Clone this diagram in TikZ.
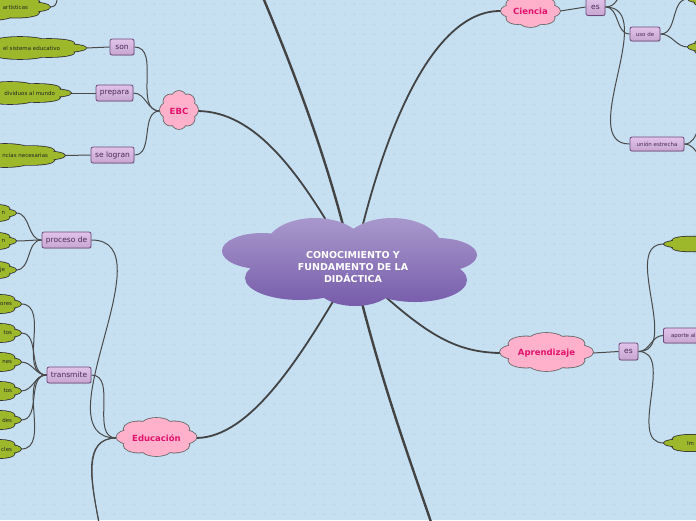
\documentclass[tikz,border=0pt]{standalone}
\usepackage{fontspec}
\setmainfont{DejaVu Sans}
\usetikzlibrary{shadows}

\definecolor{fondo}{HTML}{C6E0F2}
\definecolor{punto}{HTML}{B8D5EC}
\definecolor{rosa}{HTML}{FFB0CB}
\definecolor{rosatexto}{HTML}{E3126B}
\definecolor{lila}{HTML}{D9B4E3}
\definecolor{lilaborde}{HTML}{6E4A7C}
\definecolor{lilatexto}{HTML}{4B2A55}
\definecolor{verde}{HTML}{9DB82A}
\definecolor{gris}{HTML}{4A4A4A}
\definecolor{centroarriba}{HTML}{A898CC}
\definecolor{centroabajo}{HTML}{775CAB}

\pgfdeclarelayer{fondo}
\pgfdeclarelayer{ramas}
\pgfsetlayers{fondo,ramas,main}

% nube: relleno, borde, centro, ancho, alto
\newcommand\nube[5]{%
  \begin{scope}[shift={#3}, xscale=#4/2, yscale=#5/2]
    \draw[draw=#2, line width=1.6pt] (0,0) circle[radius=0.62]
      \foreach \a in {0,45,...,315} {(\a:0.62) circle[radius=0.38]};
    \fill[#1] (0,0) circle[radius=0.62]
      \foreach \a in {0,45,...,315} {(\a:0.62) circle[radius=0.38]};
  \end{scope}}

\tikzset{
  idea/.style={inner sep=0pt, text=white, align=center,
    font=\fontsize{9.5}{12}\selectfont\bfseries},
  tema/.style={inner sep=0pt, text=rosatexto, font=\fontsize{8.5}{10}\selectfont\bfseries},
  enlace/.style={rectangle, rounded corners=2pt, draw=lilaborde, line width=0.8pt,
    top color=lila!80!white, bottom color=lila!92!black, text=lilatexto,
    inner sep=0pt, minimum height=16pt, font=\fontsize{7.5}{8}\selectfont,
    drop shadow={shadow xshift=0.6pt, shadow yshift=-0.8pt, opacity=0.3}},
  enlacechico/.style={enlace, minimum height=14pt, font=\fontsize{5.5}{6}\selectfont},
  hoja/.style={inner sep=0pt},
  hojatexto/.style={text=black!85, font=\fontsize{5.5}{6}\selectfont, inner sep=0pt},
  rama/.style={draw=gris, line width=1pt},
  ramagruesa/.style={draw=gris!90!black, line width=2.4pt, line cap=round},
}

\begin{document}
\begin{tikzpicture}[x=1pt, y=-1pt]
\useasboundingbox (0,0) rectangle (696,520);

\begin{pgfonlayer}{fondo}
  \fill[fondo] (0,0) rectangle (696,520);
  \draw[punto, line width=0.5pt] \foreach \i in {4,14,...,694} {
    \foreach \j in {4,14,...,514} {(\i-1.2,\j) -- (\i+1.2,\j) (\i,\j-1.2) -- (\i,\j+1.2)}};
\end{pgfonlayer}

%idea central
\shade[top color=centroarriba, bottom color=centroabajo]
  (350,262) ellipse[x radius=90, y radius=30]
  (315,248) ellipse[x radius=50, y radius=30]
  (392,248) ellipse[x radius=50, y radius=30]
  (262,251) ellipse[x radius=40, y radius=18]
  (437,255) ellipse[x radius=40, y radius=17]
  (300,278) ellipse[x radius=55, y radius=22]
  (415,280) ellipse[x radius=52, y radius=22]
  (355,284) ellipse[x radius=40, y radius=22];
\node[idea, minimum width=255pt, minimum height=88pt] (centro) at (353,267)
  {CONOCIMIENTO Y\\FUNDAMENTO DE LA\\DIDÁCTICA};

%temas
\nube{rosa}{black!60}{(179,110)}{38}{38}
\node[tema, minimum width=38pt, minimum height=38pt] (ebc) at (179,111) {EBC};
\nube{rosa}{black!60}{(530.5,11)}{59}{32}
\node[tema, minimum width=59pt, minimum height=32pt] (ciencia) at (530.5,11) {Ciencia};
\nube{rosa}{black!60}{(546.5,352)}{93}{38}
\node[tema, minimum width=93pt, minimum height=38pt] (aprendizaje) at (546.5,353) {Aprendizaje};
\nube{rosa}{black!60}{(156.5,437)}{80}{38}
\node[tema, minimum width=80pt, minimum height=38pt] (educacion) at (156.5,438) {Educación};

%EBC
\node[enlace, minimum width=24pt] (son) at (122,47) {son};
\node[enlace, minimum width=37pt] (prepara) at (114.5,93) {prepara};
\node[enlace, minimum width=43pt] (selogran) at (112.5,155) {se logran};
\nube{verde}{black!80}{(-10,7)}{120}{26}
\node[hoja, minimum width=120pt, minimum height=26pt,
  label={[hojatexto, anchor=east, xshift=-22pt]east:artísticas}] (artisticas) at (-10,7) {};
\nube{verde}{black!80}{(20,48)}{132}{22}
\node[hoja, minimum width=132pt, minimum height=22pt,
  label={[hojatexto, anchor=east, xshift=-26pt]east:el sistema educativo}] (sistema) at (20,48) {};
\nube{verde}{black!80}{(10,93)}{122}{22}
\node[hoja, minimum width=122pt, minimum height=22pt,
  label={[hojatexto, anchor=east, xshift=-16pt]east:dividuos al mundo}] (mundo) at (10,93) {};
\nube{verde}{black!80}{(5,155.5)}{120}{23}
\node[hoja, minimum width=120pt, minimum height=23pt,
  label={[hojatexto, anchor=east, xshift=-17pt]east:ncias necesarias}] (necesarias) at (5,155.5) {};

%Educacion
\node[enlace, minimum width=49pt] (proceso) at (66.5,240) {proceso de};
\node[enlace, minimum width=44pt] (transmite) at (69,375) {transmite};
\foreach \y/\t [count=\k] in {213/n, 241/n, 270/je}{
  \nube{verde}{black!80}{(-20,\y)}{72}{20}
  \node[hoja, minimum width=72pt, minimum height=20pt,
    label={[hojatexto, anchor=east, xshift=-11pt]east:\t}] (p\k) at (-20,\y) {};}
\foreach \y/\t [count=\k] in {304/ores, 333/tos, 362/nes, 391/tos, 420/des, 449/cles}{
  \nube{verde}{black!80}{(-15,\y)}{72}{22}
  \node[hoja, minimum width=72pt, minimum height=22pt,
    label={[hojatexto, anchor=east, xshift=-9pt]east:\t}] (t\k) at (-15,\y) {};}
\coordinate (edu1) at (80,600);
\coordinate (edu2) at (83,612);

%Ciencia
\node[enlace, minimum width=19pt, minimum height=17pt] (ces) at (595.5,7) {es};
\node[enlacechico, minimum width=30pt] (usode) at (645,34) {uso de};
\node[enlacechico, minimum width=54pt] (union) at (657,144) {unión estrecha};
\nube{verde}{black!80}{(725,-1)}{74}{18}
\node[hoja, minimum width=74pt, minimum height=18pt] (c1) at (725,-1) {};
\nube{verde}{black!80}{(728,47)}{80}{20}
\node[hoja, minimum width=80pt, minimum height=20pt] (c2) at (728,47) {};
\coordinate (ces1) at (640,-40);
\coordinate (un1) at (712,115);
\coordinate (un2) at (712,165);

%Aprendizaje
\node[enlace, minimum width=19pt, minimum height=17pt] (aes) at (628.5,351.5) {es};
\node[enlacechico, anchor=west, minimum width=40pt, minimum height=15pt] (aporte) at (663,335.5) {aporte al};
\nube{verde}{black!80}{(710,244)}{92}{18}
\node[hoja, minimum width=92pt, minimum height=18pt] (a1) at (710,244) {};
\nube{verde}{black!80}{(712,443)}{96}{20}
\node[hoja, minimum width=96pt, minimum height=20pt,
  label={[hojatexto, anchor=west, xshift=23pt]west:Im}] (a2) at (712,443) {};

\coordinate (arriba) at (262,-5);
\coordinate (abajo) at (432,525);

\begin{pgfonlayer}{ramas}
  %ramas principales
  \draw[ramagruesa] (centro.center) .. controls (330,160) and (285,50) .. (arriba);
  \draw[ramagruesa, line width=1.8pt] (centro.center) .. controls (300,170) and (255,112) .. (ebc.east);
  \draw[ramagruesa, line width=1.8pt] (centro.center) .. controls (380,140) and (430,10) .. (ciencia.west);
  \draw[ramagruesa, line width=1.8pt] (centro.center) .. controls (420,330) and (450,352) .. (aprendizaje.west);
  \draw[ramagruesa, line width=1.8pt] (centro.center) .. controls (300,360) and (250,437) .. (educacion.east);
  \draw[ramagruesa] (centro.center) .. controls (380,380) and (410,460) .. (abajo);

  %EBC
  \foreach \n in {son, prepara, selogran}
    \draw[rama] (ebc.west) to[out=180, in=0] (\n.east);
  \draw[rama] (son.west) -- (sistema.east);
  \draw[rama] (prepara.west) -- (mundo.east);
  \draw[rama] (selogran.west) -- (necesarias.east);
  \draw[rama] (artisticas.east) to[out=0, in=180] (60,-40);

  %Educacion
  \foreach \n in {proceso, transmite, edu1, edu2}
    \draw[rama] (educacion.west) to[out=180, in=0] (\n);
  \foreach \k in {1,2,3}
    \draw[rama] (proceso.west) to[out=180, in=0] (p\k.east);
  \foreach \k in {1,...,6}
    \draw[rama] (transmite.west) to[out=180, in=0] (t\k.east);

  %Ciencia
  \draw[rama] (ciencia.east) -- (ces.west);
  \foreach \n in {ces1, usode.west, union.west}
    \draw[rama] (ces.east) to[out=0, in=180] (\n);
  \draw[rama] (usode.east) to[out=0, in=180] (c1.west);
  \draw[rama] (usode.east) to[out=0, in=180] (c2.west);
  \draw[rama] (union.east) to[out=0, in=180] (un1);
  \draw[rama] (union.east) to[out=0, in=180] (un2);

  %Aprendizaje
  \draw[rama] (aprendizaje.east) -- (aes.west);
  \foreach \n in {a1, aporte, a2}
    \draw[rama] (aes.east) to[out=0, in=180] (\n.west);
\end{pgfonlayer}
\end{tikzpicture}
\end{document}
